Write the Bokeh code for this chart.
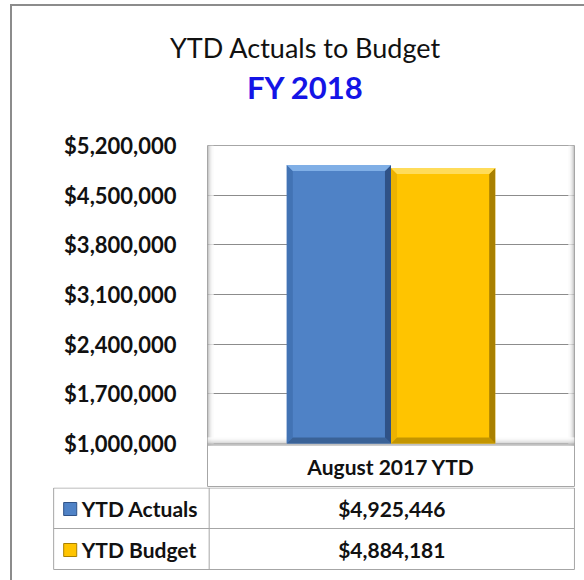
from bokeh.plotting import figure
from bokeh.layouts import column, row
from bokeh.models import Range1d, FixedTicker, NumeralTickFormatter, ColumnDataSource
from bokeh.core.properties import value
from bokeh.embed import file_html
from bokeh.resources import INLINE

# ---------------- data ----------------
chart_title = "YTD Actuals to Budget"
chart_subtitle = "FY 2018"
categories = ["August 2017 YTD"]
series_names = ["YTD Actuals", "YTD Budget"]
actuals = [4925446]
budget = [4884181]
y_ticks = [1000000, 1700000, 2400000, 3100000, 3800000, 4500000, 5200000]

# ---------------- style / layout (page pixels) ----------------
FONT = "Lato"
PW, PH = 584, 580
LEFT = 12                # page x where every canvas starts (after the border)
TOP_B = 6                # page y where the title canvas starts (after the border)
TITLE_H = 125
CHART_TOP, CHART_BOT = TITLE_H, 487
frame_l, frame_r, frame_t = 207, 572, 145
floor_b = 445           # bottom of the 3-D floor
base_px = 443           # page y of lowest tick
border_col = "#8C8C8C"
line_col = "#A6A6A6"
text_col = "#111111"
CSS_L = {"border-left": "2px solid " + border_col, "box-sizing": "content-box"}
CSS_TL = {"border-left": "2px solid " + border_col, "border-top": "2px solid " + border_col,
          "box-sizing": "content-box"}

y_lo, y_hi = y_ticks[0], y_ticks[-1]
px_per_val = (base_px - frame_t) / (y_hi - y_lo)
y_start = y_lo - (CHART_BOT - base_px) / px_per_val

series_values = [actuals, budget]
main_cols = ["#4F82C6", "#FFC400"]
top_cols = ["#80AFE6", "#FFDC5A"]
left_cols = ["#4273B4", "#EDB200"]
right_cols = ["#2F5287", "#A98000"]
bot_cols = ["#3A6297", "#C39500"]
CW = PW - LEFT


def blank_fig(h, y0, y1, margin, styles):
    f = figure(width=CW, height=h, output_backend="svg", toolbar_location=None,
               x_range=Range1d(LEFT, PW), y_range=Range1d(y1, y0),
               x_axis_location=None, y_axis_location=None, title=None,
               min_border_left=0, min_border_right=0, min_border_top=0, min_border_bottom=0,
               margin=margin, styles=styles)
    f.outline_line_color = None
    f.grid.visible = False
    f.background_fill_color = "white"
    f.border_fill_color = "white"
    return f


# ---------------- title block ----------------
tf = blank_fig(TITLE_H - TOP_B, TOP_B, TITLE_H, (TOP_B - 2, 0, 0, LEFT - 2), CSS_TL)
tf.text(x=[304], y=[46], text=[chart_title], text_font=value(FONT),
        text_font_size=value("27px"), text_color=text_col,
        text_align="center", text_baseline="middle")
tf.text(x=[304], y=[85], text=[chart_subtitle], text_font=value(FONT),
        text_font_size=value("31px"), text_font_style="bold", text_color="#1414E6",
        text_align="center", text_baseline="middle")

# ---------------- chart ----------------
CH = CHART_BOT - CHART_TOP
p = figure(width=CW, height=CH, output_backend="svg", toolbar_location=None,
           x_range=Range1d(0, len(categories)), y_range=Range1d(y_start, y_hi),
           x_axis_location=None, title=None,
           min_border_left=frame_l - LEFT, min_border_right=PW - frame_r,
           min_border_top=frame_t - CHART_TOP, min_border_bottom=0,
           margin=(0, 0, 0, LEFT - 2), styles=CSS_L)
p.background_fill_color = "white"
p.border_fill_color = "white"
p.outline_line_color = line_col
p.outline_line_width = 1

p.yaxis.ticker = FixedTicker(ticks=y_ticks)
p.yaxis.formatter = NumeralTickFormatter(format="$0,0")
p.yaxis.axis_line_color = None
p.yaxis.major_tick_line_color = None
p.yaxis.minor_tick_line_color = None
p.yaxis.major_label_standoff = 25
p.yaxis.major_label_text_font = FONT
p.yaxis.major_label_text_font_style = "bold"
p.yaxis.major_label_text_font_size = "22px"
p.yaxis.major_label_text_color = text_col

p.xgrid.visible = False
p.ygrid.grid_line_color = "#8C8C8C"
p.ygrid.grid_line_width = 1
p.ygrid.ticker = FixedTicker(ticks=y_ticks)

n_c = len(categories)
cat_pos = [i + 0.5 for i in range(n_c)]
x_per_px = n_c / (frame_r - frame_l)
y_floor = y_lo - (floor_b - base_px) / px_per_val

# 3-D walls and floor
wall_greys = ["#A8A8A8", "#C4C4C4", "#DADADA", "#EAEAEA", "#F4F4F4", "#FAFAFA"]
for k, g in enumerate(wall_greys):
    p.quad(left=k * x_per_px, right=(k + 1) * x_per_px, bottom=y_floor, top=y_hi,
           fill_color=g, line_color=None)
    p.quad(left=n_c - (k + 1) * x_per_px, right=n_c - k * x_per_px,
           bottom=y_floor, top=y_hi, fill_color=g, line_color=None)
floor_greys = ["#9C9C9C", "#B4B4B4", "#C8C8C8", "#D8D8D8", "#E4E4E4", "#EEEEEE", "#F6F6F6", "#FBFBFB"]
for k, g in enumerate(floor_greys):
    p.quad(left=0, right=n_c, bottom=y_floor + k / px_per_val,
           top=y_floor + (k + 1) / px_per_val, fill_color=g, line_color=None)

# bars with bevels
bar_w = 0.284
bx = 6 * x_per_px
by = 6 / px_per_val
n_s = len(series_names)
for s, vals in enumerate(series_values):
    L = [c - n_s * bar_w / 2 + s * bar_w for c in cat_pos]
    R = [l + bar_w for l in L]
    B = [y_lo for _ in vals]
    src = ColumnDataSource(dict(left=L, right=R, bottom=B, top=vals))
    p.quad(left="left", right="right", bottom="bottom", top="top", source=src,
           fill_color=main_cols[s], line_color=None)
    top_xs, top_ys, lft_xs, lft_ys, rgt_xs, rgt_ys, bot_xs, bot_ys = [], [], [], [], [], [], [], []
    for l, r, b, t in zip(L, R, B, vals):
        top_xs.append([l, r, r - bx, l + bx]); top_ys.append([t, t, t - by, t - by])
        lft_xs.append([l, l + bx, l + bx, l]); lft_ys.append([t, t - by, b + by, b])
        rgt_xs.append([r, r, r - bx, r - bx]); rgt_ys.append([t, b, b + by, t - by])
        bot_xs.append([l, r, r - bx, l + bx]); bot_ys.append([b, b, b + by, b + by])
    p.patches(lft_xs, lft_ys, fill_color=left_cols[s], line_color=None)
    p.patches(bot_xs, bot_ys, fill_color=bot_cols[s], line_color=None)
    p.patches(rgt_xs, rgt_ys, fill_color=right_cols[s], line_color=None)
    p.patches(top_xs, top_ys, fill_color=top_cols[s], line_color=None)

# category label (header cell of the data table)
cat_label_y = y_lo - (466 - base_px) / px_per_val
p.text(x=cat_pos, y=[cat_label_y] * n_c, text=categories, text_font=value(FONT),
       text_font_size=value("21px"), text_font_style="bold", text_color=text_col,
       text_align="center", text_baseline="middle")

# ---------------- data table ----------------
TH = PH - CHART_BOT
tb = blank_fig(TH, CHART_BOT, PH, (0, 0, 0, LEFT - 2), CSS_L)
tbl_l, tbl_div, tbl_r = 53, 208, 572
row_lines = [487.5, 528, 569]
row_y = [508, 549]
tb.segment(x0=[tbl_l] * 3, y0=row_lines, x1=[tbl_r] * 3, y1=row_lines,
           line_color=line_col, line_width=1)
tb.segment(x0=[tbl_l, tbl_div, tbl_r], y0=[row_lines[0]] * 3,
           x1=[tbl_l, tbl_div, tbl_r], y1=[row_lines[-1]] * 3,
           line_color=line_col, line_width=1)
tb.quad(left=[63] * n_s, right=[76] * n_s, top=[y - 6 for y in row_y],
        bottom=[y + 7 for y in row_y], fill_color=main_cols[:n_s],
        line_color=right_cols[:n_s], line_width=1)
tb.text(x=[81] * n_s, y=row_y, text=series_names, text_font=value(FONT),
        text_font_size=value("21px"), text_font_style="bold", text_color=text_col,
        text_align="left", text_baseline="middle")
value_texts = ["${:,}".format(v[0]) for v in series_values]
tb.text(x=[(tbl_div + tbl_r) / 2] * n_s, y=row_y, text=value_texts, text_font=value(FONT),
        text_font_size=value("21px"), text_font_style="bold", text_color=text_col,
        text_align="center", text_baseline="middle")

layout = column(row(tf, spacing=0), row(p, spacing=0), row(tb, spacing=0), spacing=0)
open("out.html", "w").write(file_html(layout, INLINE))
